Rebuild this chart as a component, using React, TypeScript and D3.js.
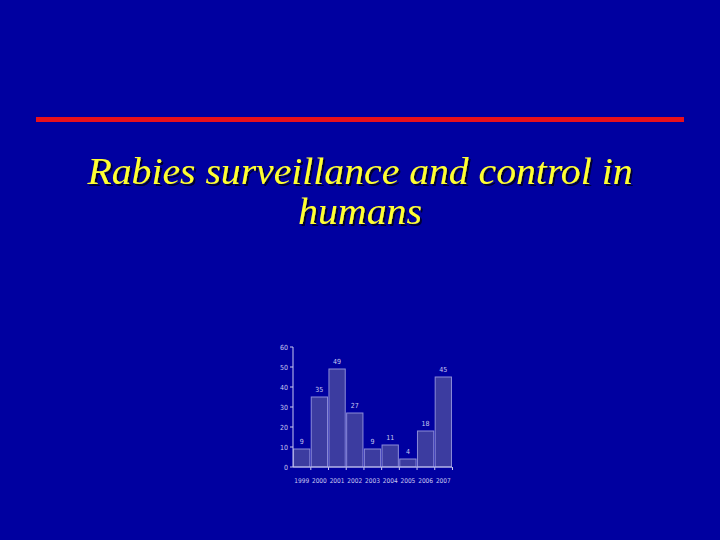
import React from 'react';
import * as d3 from 'd3';

const years = ['1999', '2000', '2001', '2002', '2003', '2004', '2005', '2006', '2007'];
const cases = [9, 35, 49, 27, 9, 11, 4, 18, 45];
const yTicks = [0, 10, 20, 30, 40, 50, 60];
const titleLines = ['Rabies surveillance and control in', 'humans'];
const titleWidths = [545, 124];

const App = () => {
  const width = 720;
  const height = 540;

  const x = d3.scaleBand<string>()
    .domain(years)
    .range([293, 452])
    .paddingInner(0.08)
    .paddingOuter(0.03);

  const y = d3.scaleLinear()
    .domain([0, 60])
    .range([467, 347]);

  const tickColor = '#c8c8f0';
  const smallFont = '"DejaVu Sans Condensed", "DejaVu Sans", sans-serif';

  return (
    <svg width={width} height={height} style={{ position: 'absolute', left: 0, top: 0 }}>
      <defs>
        <filter id="shadow" x="-5%" y="-20%" width="110%" height="140%">
          <feDropShadow dx={2} dy={2} stdDeviation={0.6} floodColor="#000030" floodOpacity={1} />
        </filter>
      </defs>
      <rect x={0} y={0} width={width} height={height} fill="#0000a0" />
      <rect x={36} y={117} width={648} height={5} fill="#e8101c" />

      {titleLines.map((t, i) => (
        <text key={t} x={360} y={184 + i * 40} textAnchor="middle" fontFamily='"Liberation Serif", serif'
          fontStyle="italic" fontSize={37} fill="#ffff33" filter="url(#shadow)"
          textLength={titleWidths[i]} lengthAdjust="spacingAndGlyphs">{t}</text>
      ))}

      {/* bars */}
      {years.map((yr, i) => (
        <g key={yr}>
          <rect x={x(yr)} y={y(cases[i])} width={x.bandwidth()} height={y(0) - y(cases[i])}
            fill="#3c3ca0" stroke="#8c8cd8" strokeWidth={1} />
          <text x={(x(yr) ?? 0) + x.bandwidth() / 2} y={y(cases[i]) - 5} textAnchor="middle"
            fontFamily={smallFont} fontSize={7} fill={tickColor}>{cases[i]}</text>
          <text x={(x(yr) ?? 0) + x.bandwidth() / 2} y={483} textAnchor="middle"
            fontFamily={smallFont} fontSize={6.5} fill={tickColor}>{yr}</text>
          <line x1={(x(yr) ?? 0) + x.bandwidth() + 1} x2={(x(yr) ?? 0) + x.bandwidth() + 1}
            y1={y(0)} y2={y(0) + 3} stroke={tickColor} />
        </g>
      ))}

      {/* axes */}
      <line x1={293} x2={293} y1={y(60)} y2={y(0)} stroke={tickColor} />
      <line x1={293} x2={452} y1={y(0)} y2={y(0)} stroke={tickColor} />
      {yTicks.map(t => (
        <g key={t}>
          <line x1={290} x2={293} y1={y(t)} y2={y(t)} stroke={tickColor} />
          <text x={288} y={y(t) + 2.5} textAnchor="end" fontFamily={smallFont} fontSize={7}
            fill={tickColor}>{t}</text>
        </g>
      ))}
    </svg>
  );
};

export default App;
